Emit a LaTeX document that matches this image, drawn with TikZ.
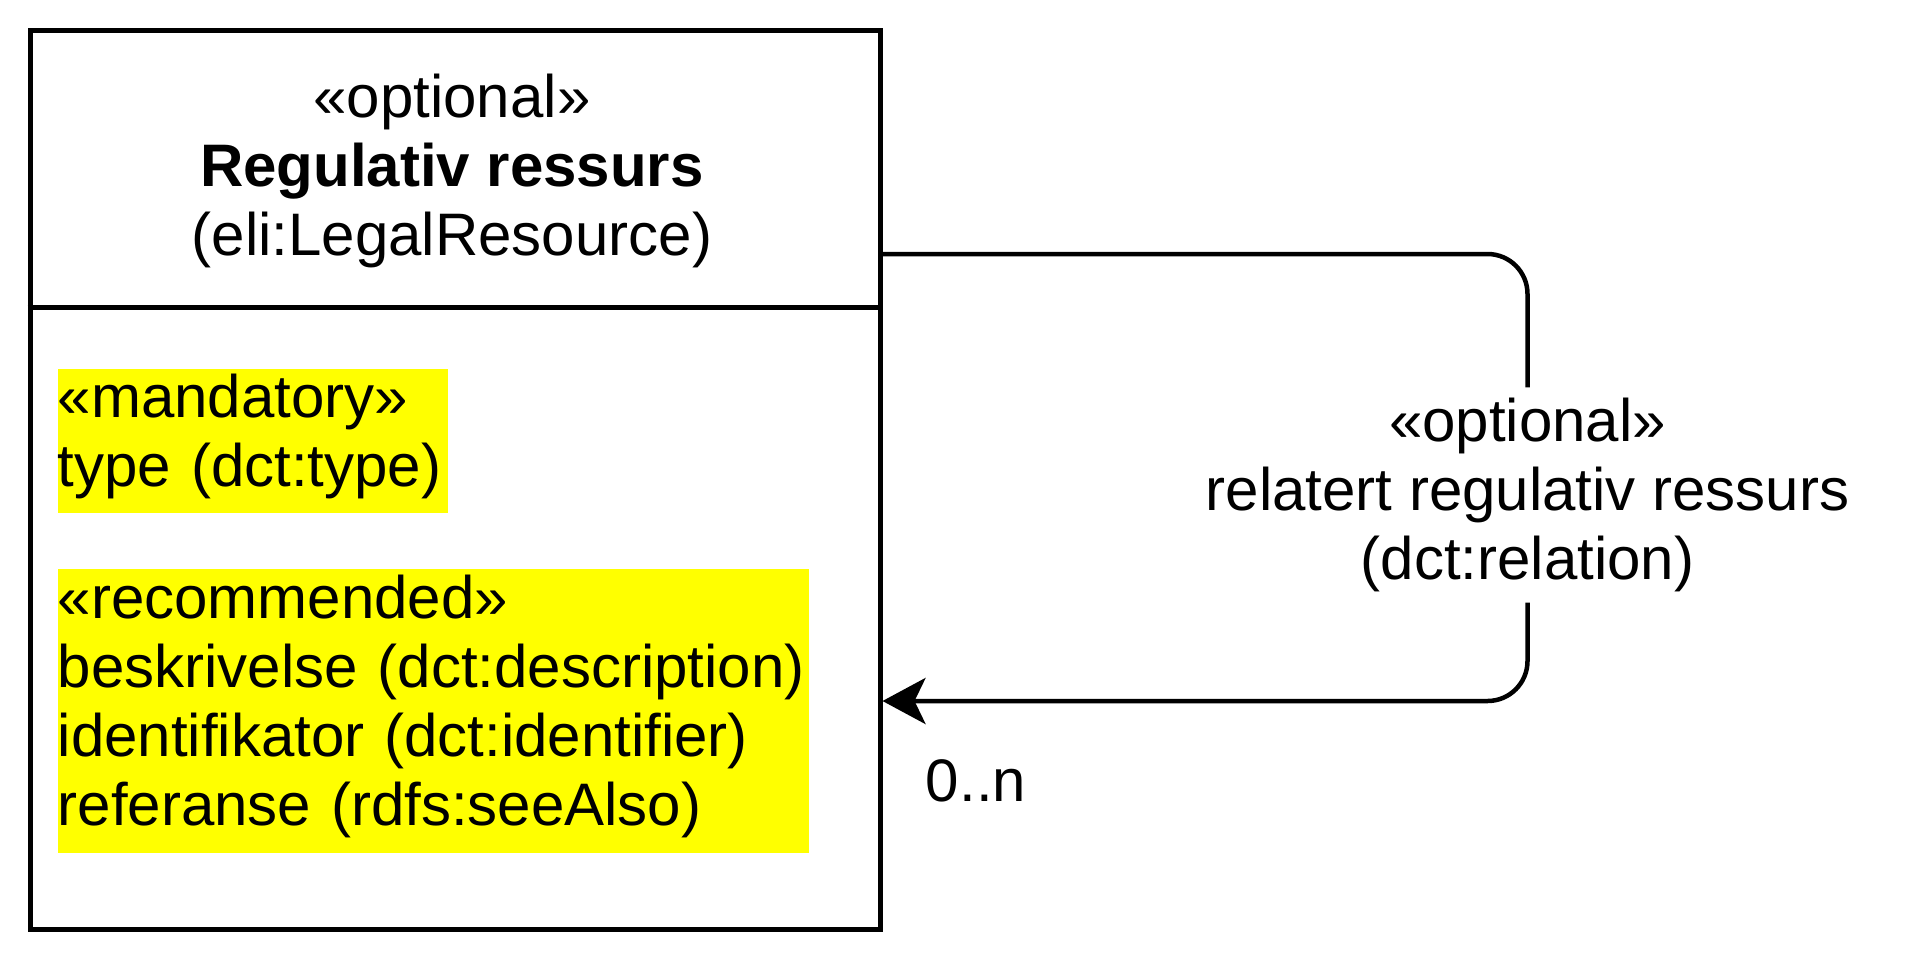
\documentclass[tikz,border=0pt]{standalone}
\usepackage{fontspec}
\setmainfont{Liberation Sans}
\usetikzlibrary{arrows.meta}

\definecolor{hlyellow}{RGB}{255,255,0}
\tikzset{every picture/.style={line width=0.75pt}}
\tikzset{
  classbox/.style={draw, line width=2.5pt, inner sep=0pt},
  attrbox/.style={fill=hlyellow, inner sep=0pt, align=left, anchor=north west,
    execute at end node={\vspace*{4pt}}},
  assoc/.style={line width=2.25pt, rounded corners=20pt},
  rellabel/.style={fill=white, inner sep=5pt, align=center}
}

\begin{document}
\begin{tikzpicture}[x=0.5pt,y=0.5pt,yscale=-1,xscale=1,
  every node/.style={font=\fontsize{30}{34.5}\selectfont}]
\useasboundingbox (0,0) rectangle (1905,955);

%Shape: Rectangle
\node [classbox, minimum width=425pt, minimum height=449.5pt, anchor=north west] (res) at (27.5,27.5) {};
%Straight Lines
\draw [line width=2.5pt] ([yshift=140pt]res.north west) -- ([yshift=140pt]res.north east) ;

% Text Node
\node [align=center] (head) at (452,171) {«optional»\\\textbf{Regulativ ressurs}\\(eli:LegalResource)};
% Text Node
\node [attrbox, text width=195pt, minimum height=72pt] (mand) at (57,368) {«mandatory»\\type (dct:type)};
% Text Node
\node [attrbox, text width=375.5pt, minimum height=142pt] (reco) at (57,568) {«recommended»\\beskrivelse (dct:description)\\identifikator (dct:identifier)\\referanse (rdfs:seeAlso)};

% Text Node
\node [rellabel] (rel) at (1527.5,495) {«optional»\\relatert regulativ ressurs\\(dct:relation)};
% Text Node
\node (mult) at (976,781) {0..n};

%Connector
\draw [assoc] ([yshift=113.25pt]res.north east) -| (rel.north) ;
%Connector
\draw [assoc, -{Stealth[length=21.5pt, width=23pt, inset=5.5pt]}] (rel.south) |- ([yshift=336.75pt]res.north east) ;

\end{tikzpicture}
\end{document}
